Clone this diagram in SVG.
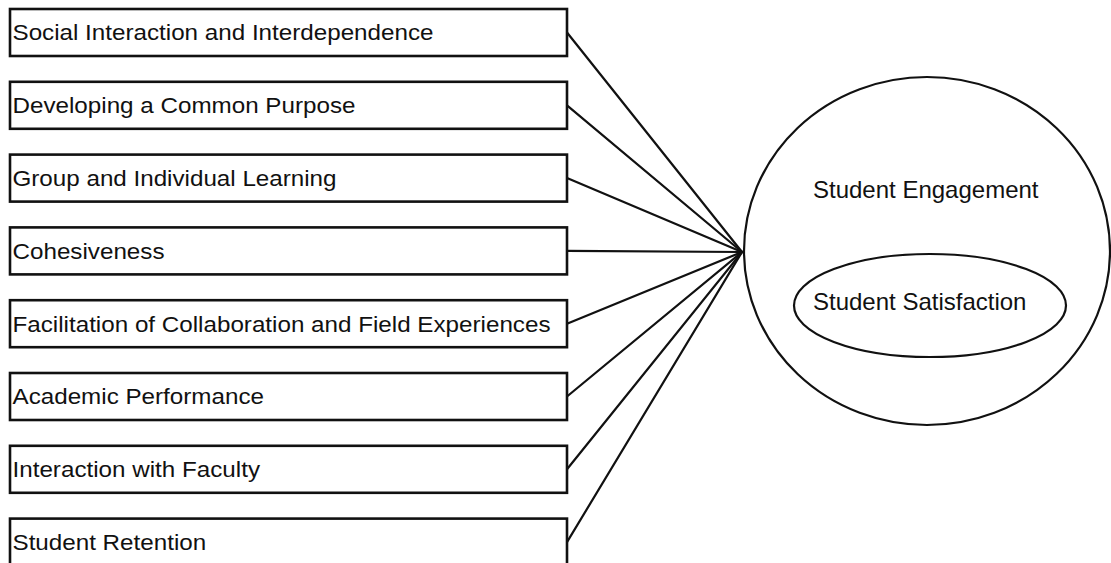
<svg xmlns="http://www.w3.org/2000/svg" width="1111" height="563" viewBox="0 0 1111 563">
  <style>
    .box { fill: #ffffff; stroke: #111111; stroke-width: 2.6; }
    .lbl { font-family: "Liberation Sans", Arial, sans-serif; font-size: 22px; fill: #111111; }
    .big { font-family: "Liberation Sans", Arial, sans-serif; font-size: 24px; fill: #111111; }
    .edge { stroke: #111111; stroke-width: 2.2; fill: none; stroke-linecap: round; }
    .ring { fill: none; stroke: #111111; stroke-width: 2.2; }
  </style>
  <rect width="1111" height="563" fill="#ffffff"/>

  <!-- connectors: each factor box feeds the engagement circle -->
  <g id="connectors">
    <line class="edge" x1="567" y1="32.5" x2="742" y2="252"/>
    <line class="edge" x1="567" y1="105.3" x2="742" y2="252"/>
    <line class="edge" x1="567" y1="178.1" x2="742" y2="252"/>
    <line class="edge" x1="567" y1="250.9" x2="742" y2="252"/>
    <line class="edge" x1="567" y1="323.7" x2="742" y2="252"/>
    <line class="edge" x1="567" y1="396.5" x2="742" y2="252"/>
    <line class="edge" x1="567" y1="469.3" x2="742" y2="252"/>
    <line class="edge" x1="567" y1="542.1" x2="742" y2="252"/>
  </g>

  <g id="social-interaction">
    <rect class="box" x="10" y="9" width="557" height="47"/>
    <text class="lbl" x="12.5" y="40" textLength="421" lengthAdjust="spacingAndGlyphs">Social Interaction and Interdependence</text>
  </g>
  <g id="common-purpose">
    <rect class="box" x="10" y="81.8" width="557" height="47"/>
    <text class="lbl" x="12.5" y="113" textLength="343" lengthAdjust="spacingAndGlyphs">Developing a Common Purpose</text>
  </g>
  <g id="group-learning">
    <rect class="box" x="10" y="154.6" width="557" height="47"/>
    <text class="lbl" x="12.5" y="186" textLength="324" lengthAdjust="spacingAndGlyphs">Group and Individual Learning</text>
  </g>
  <g id="cohesiveness">
    <rect class="box" x="10" y="227.4" width="557" height="47"/>
    <text class="lbl" x="12.5" y="259" textLength="152" lengthAdjust="spacingAndGlyphs">Cohesiveness</text>
  </g>
  <g id="facilitation">
    <rect class="box" x="10" y="300.2" width="557" height="47"/>
    <text class="lbl" x="12.5" y="332" textLength="538" lengthAdjust="spacingAndGlyphs">Facilitation of Collaboration and Field Experiences</text>
  </g>
  <g id="academic-performance">
    <rect class="box" x="10" y="373" width="557" height="47"/>
    <text class="lbl" x="12.5" y="404" textLength="251.5" lengthAdjust="spacingAndGlyphs">Academic Performance</text>
  </g>
  <g id="faculty-interaction">
    <rect class="box" x="10" y="445.8" width="557" height="47"/>
    <text class="lbl" x="12.5" y="477" textLength="247.5" lengthAdjust="spacingAndGlyphs">Interaction with Faculty</text>
  </g>
  <g id="student-retention">
    <rect class="box" x="10" y="518.6" width="557" height="47"/>
    <text class="lbl" x="12.5" y="550" textLength="193.7" lengthAdjust="spacingAndGlyphs">Student Retention</text>
  </g>

  <g id="student-engagement">
    <ellipse class="ring" cx="927" cy="251" rx="183" ry="174"/>
    <text class="big" x="813" y="198">Student Engagement</text>
  </g>
  <g id="student-satisfaction">
    <ellipse class="ring" cx="930" cy="305.5" rx="136" ry="51.5"/>
    <text class="big" x="813" y="310">Student Satisfaction</text>
  </g>
</svg>
